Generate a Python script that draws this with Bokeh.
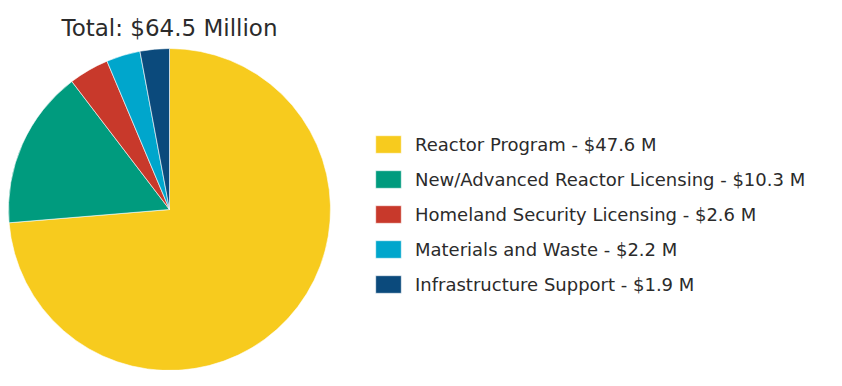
import numpy as np
from bokeh.plotting import figure
from bokeh.models import ColumnDataSource, Legend, LegendItem, Label, Range1d
from bokeh.embed import file_html
from bokeh.resources import INLINE

categories = ["Reactor Program", "New/Advanced Reactor Licensing",
              "Homeland Security Licensing", "Materials and Waste",
              "Infrastructure Support"]
values = [47.6, 10.3, 2.6, 2.2, 1.9]
labels = ["Reactor Program - $47.6 M", "New/Advanced Reactor Licensing - $10.3 M",
          "Homeland Security Licensing - $2.6 M", "Materials and Waste - $2.2 M",
          "Infrastructure Support - $1.9 M"]
colors = ["#F7CB1E", "#009B7E", "#C8392B", "#00A6CC", "#0B4A7C"]
title_text = "Total: $64.5 Million"

W, H = 826, 370
FONT = "DejaVu Sans"
TXT = "#2b2b2b"

vals = np.array(values)
frac = vals / vals.sum()
cum = np.concatenate([[0], np.cumsum(frac)])
start = np.pi / 2 - 2 * np.pi * cum[:-1]
end = np.pi / 2 - 2 * np.pi * cum[1:]

src = ColumnDataSource(dict(cat=categories, start=start, end=end, color=colors,
                            cx=[169] * len(values), cy=[H - 209] * len(values)))

p = figure(width=W, height=H, output_backend="svg", toolbar_location=None,
           x_range=Range1d(0, W), y_range=Range1d(0, H), min_border=0)
p.axis.visible = False
p.grid.visible = False
p.outline_line_color = None
p.background_fill_color = "white"

r = p.wedge(x="cx", y="cy", radius=161, start_angle="start", end_angle="end",
            direction="clock", fill_color="color", line_color="white", line_width=0.6,
            source=src)

items = [LegendItem(label=labels[i], renderers=[r], index=i) for i in range(len(values))]
legend = Legend(items=items, location=(372, 75), orientation="vertical",
                glyph_width=32, glyph_height=22, label_height=22,
                label_standoff=11, spacing=13, padding=0, margin=0,
                border_line_color=None, background_fill_alpha=0,
                label_text_font=FONT, label_text_font_size="18px",
                label_text_color=TXT)
p.add_layout(legend, "center")

p.add_layout(Label(x=61, y=H - 27, x_units="screen", y_units="screen", text=title_text,
                   text_font=FONT, text_font_size="23px", text_color=TXT,
                   text_baseline="alphabetic"))

open("out.html", "w").write(file_html(p, INLINE))
